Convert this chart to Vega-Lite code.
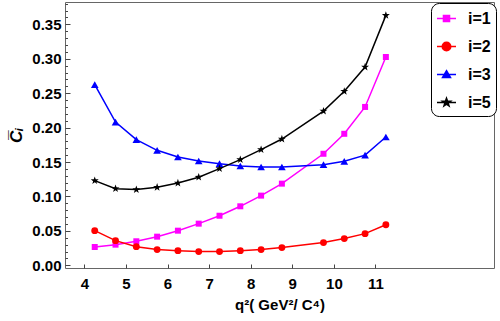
{
  "$schema": "https://vega.github.io/schema/vega-lite/v6.json",
  "width": 429,
  "height": 266,
  "autosize": {"type": "none"},
  "padding": {"left": 65, "top": 2, "right": 6, "bottom": 53},
  "config": {
    "font": "Liberation Sans",
    "view": {"stroke": "#666666", "strokeWidth": 1}
  },
  "data": {
    "values": [
      {"q2": 4.25, "C": 0.0266, "s": "i=1"},
      {"q2": 4.75, "C": 0.0300, "s": "i=1"},
      {"q2": 5.25, "C": 0.0349, "s": "i=1"},
      {"q2": 5.75, "C": 0.0416, "s": "i=1"},
      {"q2": 6.25, "C": 0.0503, "s": "i=1"},
      {"q2": 6.75, "C": 0.0605, "s": "i=1"},
      {"q2": 7.25, "C": 0.0720, "s": "i=1"},
      {"q2": 7.75, "C": 0.0857, "s": "i=1"},
      {"q2": 8.25, "C": 0.1012, "s": "i=1"},
      {"q2": 8.75, "C": 0.1186, "s": "i=1"},
      {"q2": 9.75, "C": 0.1620, "s": "i=1"},
      {"q2": 10.25, "C": 0.1910, "s": "i=1"},
      {"q2": 10.75, "C": 0.2300, "s": "i=1"},
      {"q2": 11.25, "C": 0.3025, "s": "i=1"},
      {"q2": 4.25, "C": 0.0503, "s": "i=2"},
      {"q2": 4.75, "C": 0.0358, "s": "i=2"},
      {"q2": 5.25, "C": 0.0271, "s": "i=2"},
      {"q2": 5.75, "C": 0.0228, "s": "i=2"},
      {"q2": 6.25, "C": 0.0213, "s": "i=2"},
      {"q2": 6.75, "C": 0.0199, "s": "i=2"},
      {"q2": 7.25, "C": 0.0199, "s": "i=2"},
      {"q2": 7.75, "C": 0.0213, "s": "i=2"},
      {"q2": 8.25, "C": 0.0228, "s": "i=2"},
      {"q2": 8.75, "C": 0.0257, "s": "i=2"},
      {"q2": 9.75, "C": 0.0330, "s": "i=2"},
      {"q2": 10.25, "C": 0.0388, "s": "i=2"},
      {"q2": 10.75, "C": 0.0460, "s": "i=2"},
      {"q2": 11.25, "C": 0.0590, "s": "i=2"},
      {"q2": 4.25, "C": 0.2624, "s": "i=3"},
      {"q2": 4.75, "C": 0.2080, "s": "i=3"},
      {"q2": 5.25, "C": 0.1825, "s": "i=3"},
      {"q2": 5.75, "C": 0.1670, "s": "i=3"},
      {"q2": 6.25, "C": 0.1573, "s": "i=3"},
      {"q2": 6.75, "C": 0.1515, "s": "i=3"},
      {"q2": 7.25, "C": 0.1476, "s": "i=3"},
      {"q2": 7.75, "C": 0.1443, "s": "i=3"},
      {"q2": 8.25, "C": 0.1428, "s": "i=3"},
      {"q2": 8.75, "C": 0.1428, "s": "i=3"},
      {"q2": 9.75, "C": 0.1462, "s": "i=3"},
      {"q2": 10.25, "C": 0.1510, "s": "i=3"},
      {"q2": 10.75, "C": 0.1600, "s": "i=3"},
      {"q2": 11.25, "C": 0.1863, "s": "i=3"},
      {"q2": 4.25, "C": 0.1230, "s": "i=5"},
      {"q2": 4.75, "C": 0.1113, "s": "i=5"},
      {"q2": 5.25, "C": 0.1100, "s": "i=5"},
      {"q2": 5.75, "C": 0.1133, "s": "i=5"},
      {"q2": 6.25, "C": 0.1195, "s": "i=5"},
      {"q2": 6.75, "C": 0.1280, "s": "i=5"},
      {"q2": 7.25, "C": 0.1404, "s": "i=5"},
      {"q2": 7.75, "C": 0.1535, "s": "i=5"},
      {"q2": 8.25, "C": 0.1680, "s": "i=5"},
      {"q2": 8.75, "C": 0.1834, "s": "i=5"},
      {"q2": 9.75, "C": 0.2240, "s": "i=5"},
      {"q2": 10.25, "C": 0.2527, "s": "i=5"},
      {"q2": 10.75, "C": 0.2880, "s": "i=5"},
      {"q2": 11.25, "C": 0.3630, "s": "i=5"}
    ]
  },
  "layer": [
    {
      "mark": {"type": "line", "strokeWidth": 1.5},
      "encoding": {
        "x": {
          "field": "q2", "type": "quantitative",
          "scale": {"domain": [3.535, 13.85], "nice": false, "zero": false},
          "axis": {
            "values": [4, 5, 6, 7, 8, 9, 10, 11],
            "grid": false, "domain": false,
            "tickSize": -4, "tickColor": "#444444",
            "labelPadding": 12, "labelFontSize": 15, "labelFontWeight": "bold", "labelColor": "#000000",
            "title": "q²( GeV²/ C⁴)", "titleFontSize": 15, "titleFontWeight": "bold", "titleColor": "#000000",
            "titlePadding": 6
          }
        },
        "y": {
          "field": "C", "type": "quantitative",
          "scale": {"domain": [-0.0039, 0.3824], "nice": false, "zero": false},
          "axis": {
            "values": [0, 0.05, 0.1, 0.15, 0.2, 0.25, 0.3, 0.35],
            "format": ".2f",
            "grid": false, "domain": false,
            "tickSize": -5, "tickColor": "#444444",
            "labelPadding": 9, "labelFontSize": 15, "labelFontWeight": "bold", "labelColor": "#000000",
            "title": "C̅ᵢ", "titleFontSize": 17, "titleFontStyle": "italic", "titleFontWeight": "bold", "titleColor": "#000000",
            "titlePadding": 6
          }
        },
        "color": {
          "field": "s", "type": "nominal",
          "scale": {"domain": ["i=1", "i=2", "i=3", "i=5"], "range": ["#ff00ff", "#ff0000", "#0000ff", "#000000"]},
          "legend": {
            "orient": "none", "legendX": 366, "legendY": 1,
            "title": null,
            "strokeColor": "#000000", "cornerRadius": 8, "fillColor": "#ffffff",
            "padding": 5,
            "rowPadding": 9,
            "symbolSize": 361,
            "symbolStrokeWidth": 1.5,
            "labelFontSize": 16, "labelFontWeight": "bold", "labelColor": "#000000",
            "labelOffset": 11,
            "encode": {
              "symbols": {
                "update": {
                  "shape": {"signal": "datum.value === 'i=1' ? 'M-1,0H1M-0.32,-0.32H0.32V0.32H-0.32Z' : datum.value === 'i=2' ? 'M-1,0H1M0.45,0A0.45,0.45,0,1,1,-0.45,0A0.45,0.45,0,1,1,0.45,0Z' : datum.value === 'i=3' ? 'M-1,0H1M0,-0.4L0.42,0.32H-0.42Z' : 'M-1,0H1M0,-0.45L0.106,-0.146L0.428,-0.139L0.171,0.056L0.265,0.364L0,0.18L-0.265,0.364L-0.171,0.056L-0.428,-0.139L-0.106,-0.146Z'"},
                  "size": {"value": 361},
                  "fill": {"signal": "scale('color', datum.value)"},
                  "fillOpacity": {"value": 1},
                  "strokeWidth": {"value": 1.5}
                }
              }
            }
          }
        }
      }
    },
    {
      "mark": {"type": "point", "filled": true, "opacity": 1, "strokeWidth": 0},
      "encoding": {
        "x": {"field": "q2", "type": "quantitative"},
        "y": {
          "field": "C", "type": "quantitative",
          "axis": {
            "orient": "left",
            "values": [0.01, 0.02, 0.03, 0.04, 0.06, 0.07, 0.08, 0.09, 0.11, 0.12, 0.13, 0.14, 0.16, 0.17, 0.18, 0.19, 0.21, 0.22, 0.23, 0.24, 0.26, 0.27, 0.28, 0.29, 0.31, 0.32, 0.33, 0.34, 0.36, 0.37, 0.38],
            "labels": false, "grid": false, "domain": false, "title": null,
            "tickSize": -2.5, "tickColor": "#444444"
          }
        },
        "fill": {
          "field": "s", "type": "nominal",
          "scale": {"range": ["#ff00ff", "#ff0000", "#0000ff", "#000000"]},
          "legend": null
        },
        "shape": {
          "field": "s", "type": "nominal",
          "scale": {"range": ["square", "circle", "triangle-up", "M0,-1L0.235,-0.324L0.951,-0.309L0.38,0.124L0.588,0.809L0,0.4L-0.588,0.809L-0.38,0.124L-0.951,-0.309L-0.235,-0.324Z"]},
          "legend": null
        },
        "size": {
          "field": "s", "type": "nominal",
          "scale": {"range": [36, 70, 60, 110]},
          "legend": null
        }
      }
    }
  ],
  "resolve": {"axis": {"y": "independent"}}
}
